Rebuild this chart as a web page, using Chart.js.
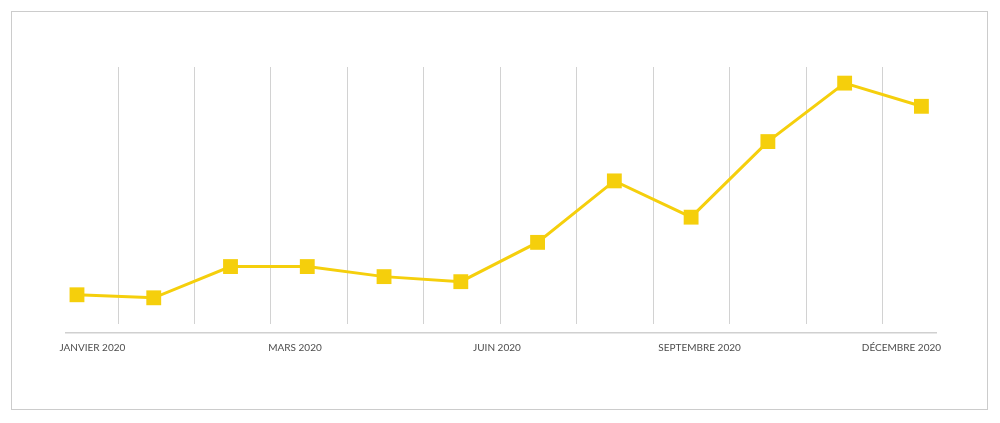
<!DOCTYPE html>
<html>
<head>
<meta charset="utf-8">
<script src="https://cdn.jsdelivr.net/npm/chart.js@4/dist/chart.umd.min.js"></script>
<style>
    html, body { margin: 0; padding: 0; background: #fff; }
    #frame {
        position: absolute; left: 11px; top: 11px;
        width: 975px; height: 397px;
        border: 1px solid #cccccc;
        pointer-events: none;
    }
    #line-chart { position: absolute; left: 0; top: 0; }
</style>
</head>
<body>
<canvas id="line-chart" width="1000" height="423"></canvas>
<div id="frame"></div>
<script>
// monthly values, 2020
const months = ['Janvier', 'Février', 'Mars', 'Avril', 'Mai', 'Juin',
    'Juillet', 'Août', 'Septembre', 'Octobre', 'Novembre', 'Décembre'];
const values = [29, 26, 57, 57, 47, 42, 81, 142, 106, 181, 239, 216];

// axis labels and where they sit (in month units)
const tick_labels = ['JANVIER 2020', 'MARS 2020', 'JUIN 2020', 'SEPTEMBRE 2020', 'DÉCEMBRE 2020'];
const tick_values = [0.2, 2.84, 5.47, 8.11, 10.74];

const yellow = '#f5cf0c';

let line_data = months.map((m, i) => ({ x: i, y: values[i] }));
// separators between months (the source draws them a touch tighter than the points)
let grid_values = months.slice(1).map((m, i) => 0.535 + i * 0.996);

let graph_config = {
    type: 'line',
    data: {
        datasets: [{
            label: 'valeur',
            data: line_data,
            borderColor: yellow,
            backgroundColor: yellow,
            borderWidth: 3,
            pointStyle: 'rect',
            pointRadius: 10.5,
            pointHoverRadius: 10.5,
            pointBorderWidth: 0,
            tension: 0
        }]
    },
    options: {
        responsive: false,
        animation: false,
        layout: {
            padding: { left: 66, right: 64, top: 67, bottom: 60 }
        },
        plugins: {
            legend: { display: false },
            tooltip: { enabled: false }
        },
        scales: {
            x: {
                type: 'linear',
                min: -0.143,
                max: 11.19,
                weight: 0,
                afterBuildTicks: scale => {
                    scale.ticks = grid_values.map(v => ({ value: v }));
                },
                ticks: { display: false },
                border: { display: false },
                grid: {
                    color: '#d2d2d2',
                    lineWidth: 1,
                    drawTicks: true,
                    tickLength: 9,
                    tickColor: 'rgba(0,0,0,0)'
                }
            },
            x2: {
                type: 'linear',
                position: 'bottom',
                min: -0.143,
                max: 11.19,
                weight: 1,
                afterBuildTicks: scale => {
                    scale.ticks = tick_values.map(v => ({ value: v }));
                },
                ticks: {
                    padding: 9,
                    maxRotation: 0,
                    autoSkip: false,
                    color: '#4d4d4d',
                    font: { family: 'Lato', size: 10 },
                    callback: (value, index) => tick_labels[index]
                },
                border: { display: true, color: '#d0d0d0', width: 1.5 },
                grid: { drawOnChartArea: false, drawTicks: false }
            },
            y: {
                display: false,
                min: 0,
                max: 255
            }
        }
    }
};

const ctx = document.getElementById('line-chart').getContext('2d');
let line_chart = new Chart(ctx, graph_config);
</script>
</body>
</html>
